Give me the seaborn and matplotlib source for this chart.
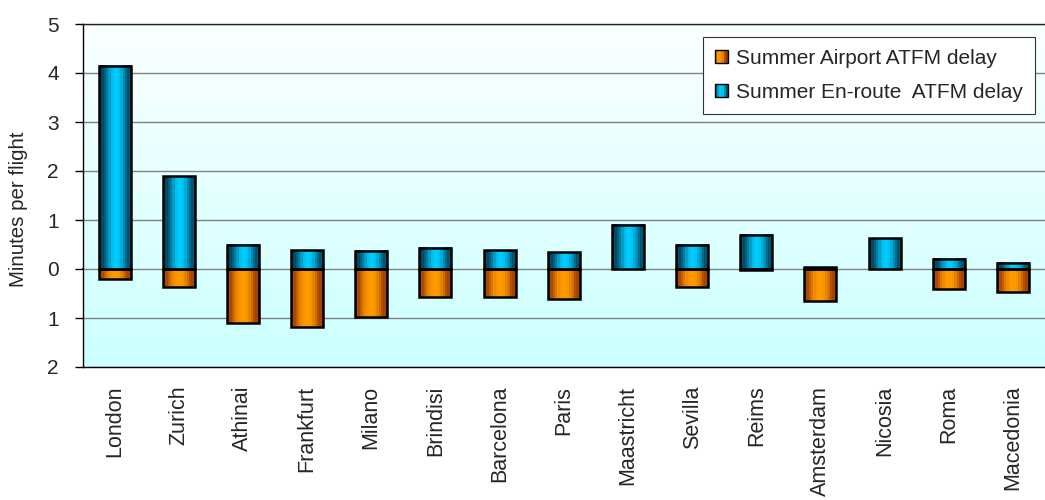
import numpy as np
import pandas as pd
import matplotlib
matplotlib.use("Agg")
import matplotlib.pyplot as plt
from matplotlib.colors import to_rgb
from matplotlib.patches import Rectangle
from matplotlib.legend_handler import HandlerBase
from matplotlib.ticker import FuncFormatter, MultipleLocator
import seaborn as sns

# ATFM delay per flight by area control centre (summer)
centres = ["London", "Zurich", "Athinai", "Frankfurt", "Milano", "Brindisi",
           "Barcelona", "Paris", "Maastricht", "Sevilla", "Reims", "Amsterdam",
           "Nicosia", "Roma", "Macedonia"]
enroute_delay = [4.15, 1.89, 0.49, 0.38, 0.37, 0.43, 0.38, 0.34, 0.90, 0.49,
                 0.70, 0.04, 0.63, 0.21, 0.13]
airport_delay = [0.20, 0.37, 1.10, 1.19, 0.98, 0.57, 0.57, 0.62, 0.00, 0.37,
                 0.03, 0.65, 0.00, 0.41, 0.46]

label_airport = "Summer Airport ATFM delay"
label_enroute = "Summer En-route  ATFM delay"

# Striped shading giving the bars a cylinder look
blue_bands = ["#003a50", "#004a64", "#00607f", "#007ca2", "#009ecb", "#00bbe8",
              "#00c9f9", "#00ccff", "#00c2f2", "#00acd8", "#008db4", "#006d90",
              "#00546f", "#00425a"]
orange_bands = ["#8a3c00", "#a84a00", "#c26000", "#dc7800", "#ee8900", "#fa9500",
                "#ff9a00", "#ff9900", "#f89300", "#e88300", "#cf6b00", "#b25200",
                "#a04600", "#8a3c00"]

sns.set_style("white")
plt.rcParams["font.family"] = ["Liberation Sans", "DejaVu Sans"]

df = pd.DataFrame({
    "centre": centres * 2,
    "delay": [-v for v in airport_delay] + enroute_delay,
    "type": [label_airport] * len(centres) + [label_enroute] * len(centres),
})

fig = plt.figure(figsize=(10.45, 5.0), dpi=100)
W, H = 1045, 500
ax = fig.add_axes([82.5 / W, 1 - 367 / H, (W - 82.5) / W, 343 / H])

palette = {label_airport: orange_bands[7], label_enroute: blue_bands[7]}
sns.barplot(data=df, x="centre", y="delay", hue="type", order=centres,
            hue_order=[label_airport, label_enroute], palette=palette,
            dodge=False, width=0.5, errorbar=None, legend=False, ax=ax)

# Plot-area background: white at the top fading to pale cyan
bg = np.linspace(0, 1, 256)[:, None]
top, bottom = np.array(to_rgb("#fbffff")), np.array(to_rgb("#ccffff"))
bg_img = top[None, None, :] * (1 - bg[..., None]) + bottom[None, None, :] * bg[..., None]
bg_img = np.repeat(bg_img, 2, axis=1)
ax.imshow(bg_img, extent=(0, 1, 0, 1), transform=ax.transAxes, aspect="auto",
          origin="upper", zorder=0.1, interpolation="bilinear")

# Replace flat fills with striped shading
blue_rgb = np.array([to_rgb(c) for c in blue_bands])[None, :, :]
orange_rgb = np.array([to_rgb(c) for c in orange_bands])[None, :, :]
for patch in list(ax.patches):
    h = patch.get_height()
    if abs(h) < 1e-9:
        patch.set_visible(False)
        continue
    x0, w, y0 = patch.get_x(), patch.get_width(), patch.get_y()
    bands = orange_rgb if h < 0 else blue_rgb
    ax.imshow(bands, extent=(x0, x0 + w, min(y0, y0 + h), max(y0, y0 + h)),
              aspect="auto", interpolation="nearest", zorder=2)
    patch.set_facecolor("none")
    patch.set_edgecolor("black")
    patch.set_linewidth(1.8)
    patch.set_zorder(3)

ax.set_xlim(-0.5, len(centres) - 0.5)
ax.set_ylim(-2, 5)

# Gridlines and axes
ax.set_axisbelow(True)
ax.yaxis.set_major_locator(MultipleLocator(1))
ax.yaxis.grid(True, color="#808080", linewidth=1.0, zorder=0.5)
ax.xaxis.grid(False)
ax.yaxis.set_major_formatter(FuncFormatter(lambda v, _: f"{abs(v):g}"))
for side in ("left", "bottom", "top"):
    ax.spines[side].set_visible(True)
    ax.spines[side].set_color("black")
    ax.spines[side].set_linewidth(1.0)
ax.spines["right"].set_visible(False)
ax.spines["top"].set_color("#222222")

ax.tick_params(axis="y", which="major", direction="out", length=6, width=1,
               color="black", pad=11, labelsize=15, left=True)
ax.tick_params(axis="x", which="major", length=0, pad=13.5, labelsize=15.5,
               labelrotation=90)
ax.set_xlabel("")
ax.set_ylabel("Minutes per flight", fontsize=14.8)
ax.yaxis.set_label_coords(-0.057, 0.46)

# Zero line with category separators
zero_axis = ax.secondary_xaxis(2 / 7)
zero_axis.set_xticks(np.arange(len(centres) - 1) + 0.5)
zero_axis.tick_params(direction="out", length=4.5, width=1.2, color="black",
                      labelbottom=False, labeltop=False)
zero_axis.spines["bottom"].set_color("black")
zero_axis.spines["bottom"].set_linewidth(1.2)


class StripeHandler(HandlerBase):
    def __init__(self, colors):
        super().__init__()
        self.colors = colors

    def create_artists(self, legend, orig_handle, xdescent, ydescent,
                       width, height, fontsize, trans):
        n = len(self.colors)
        arts = []
        for i, c in enumerate(self.colors):
            arts.append(Rectangle((-xdescent + i * width / n, -ydescent), width / n,
                                  height, facecolor=c, edgecolor="none", transform=trans))
        arts.append(Rectangle((-xdescent, -ydescent), width, height, facecolor="none",
                              edgecolor="black", linewidth=1.0, transform=trans))
        return arts


h_air = Rectangle((0, 0), 1, 1)
h_enr = Rectangle((0, 0), 1, 1)
leg = ax.legend([h_air, h_enr], [label_airport, label_enroute],
                handler_map={h_air: StripeHandler(orange_bands[3::2]),
                             h_enr: StripeHandler(blue_bands[2::2])},
                loc="upper right", bbox_to_anchor=(0.99, 0.963), borderaxespad=0,
                fontsize=15, frameon=True, fancybox=False, shadow=False,
                framealpha=1, edgecolor="#333333", handlelength=0.6,
                handleheight=0.6, handletextpad=0.4, labelspacing=0.7,
                borderpad=0.6)
leg.get_frame().set_linewidth(0.8)
leg.set_zorder(5)

fig.savefig("out.png", dpi=100)
